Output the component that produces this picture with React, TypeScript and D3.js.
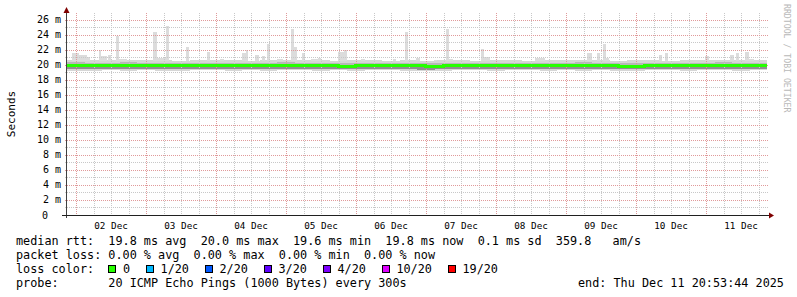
import React from 'react';
import * as d3 from 'd3';

const START = Date.UTC(2025, 11, 1, 20, 53, 44);
const END = Date.UTC(2025, 11, 11, 20, 53, 44);
const HOUR = 3600e3;

const yTicks = [0, 2, 4, 6, 8, 10, 12, 14, 16, 18, 20, 22, 24, 26];
const yMinorTicks = [1, 3, 5, 7, 9, 11, 13, 15, 17, 19, 21, 23, 25];

// median rtt (ms), one value per 3 hours
const medianRtt = [
  19.85, 19.9, 19.9, 19.85, 19.9, 19.9, 19.85, 19.9, 19.9, 19.85,
  19.9, 19.9, 19.85, 19.9, 19.85, 19.9, 19.9, 19.85, 19.9, 19.9,
  19.85, 19.9, 19.9, 19.85, 19.9, 19.9, 19.85, 19.9, 19.9, 19.85,
  19.85, 19.8, 19.75, 19.85, 19.9, 19.9, 19.85, 19.9, 19.9, 19.85,
  19.9, 19.75, 19.7, 19.85, 19.9, 19.9, 19.85, 19.9, 19.85, 19.9,
  19.9, 19.85, 19.9, 19.9, 19.85, 19.9, 19.9, 19.85, 19.9, 19.9,
  19.85, 19.9, 19.85, 19.8, 19.75, 19.75, 19.85, 19.9, 19.9, 19.85,
  19.9, 19.9, 19.85, 19.9, 19.9, 19.85, 19.9, 19.85, 19.9, 19.9,
];

// smoke band, one value per 6 hours
const smokeTop = [
  20.65, 20.6, 20.55, 20.6, 20.55, 20.55, 20.5, 20.55, 20.55, 20.55,
  20.5, 20.55, 20.6, 20.55, 20.55, 20.5, 20.55, 20.55, 20.5, 20.55,
  20.5, 20.55, 20.55, 20.5, 20.55, 20.55, 20.5, 20.55, 20.55, 20.6,
  20.55, 20.5, 20.55, 20.55, 20.5, 20.55, 20.55, 20.6, 20.55, 20.55,
];
const smokeQ3 = [
  20.3, 20.25, 20.25, 20.3, 20.25, 20.25, 20.2, 20.25, 20.25, 20.25,
  20.25, 20.25, 20.3, 20.25, 20.25, 20.2, 20.25, 20.25, 20.2, 20.25,
  20.2, 20.25, 20.25, 20.2, 20.25, 20.25, 20.25, 20.25, 20.25, 20.3,
  20.25, 20.25, 20.25, 20.25, 20.2, 20.25, 20.25, 20.3, 20.25, 20.25,
];
const smokeQ1 = [
  19.45, 19.4, 19.45, 19.4, 19.45, 19.45, 19.4, 19.45, 19.45, 19.4,
  19.45, 19.4, 19.45, 19.45, 19.4, 19.45, 19.4, 19.45, 19.45, 19.4,
  19.35, 19.4, 19.45, 19.45, 19.4, 19.45, 19.45, 19.4, 19.45, 19.4,
  19.45, 19.4, 19.4, 19.45, 19.45, 19.4, 19.45, 19.45, 19.4, 19.45,
];
const smokeBottom = [
  19.2, 19.15, 19.25, 19.2, 19.25, 19.2, 19.15, 19.25, 19.25, 19.2,
  19.25, 19.2, 19.25, 19.25, 19.2, 19.25, 19.15, 19.25, 19.25, 19.2,
  19.1, 19.2, 19.25, 19.25, 19.2, 19.25, 19.25, 19.2, 19.25, 19.2,
  19.25, 19.2, 19.15, 19.25, 19.25, 19.2, 19.25, 19.25, 19.2, 19.25,
];

// spikes of the smoke: start hour, end hour (from graph start), top value (ms)
const spikeStartH = [1.7, 4.1, 6.9, 11.0, 11.7, 14.1, 16.8, 17.8, 29.5, 30.9, 33.9, 40.8, 48.0, 52.5, 60.0, 61.4, 64.4, 66.8, 68.6, 72.0, 76.8, 77.8, 80.6, 83.7, 86.1, 92.9, 95.0, 100.8, 111.8, 115.9, 119.7, 125.9, 129.9, 131.0, 141.9, 143.0, 160.4, 178.3, 181.7, 183.8, 184.8, 202.9, 205.0, 218.7, 227.3, 229.3, 232.4, 233.8];
const spikeEndH = [4.1, 6.9, 7.9, 11.7, 13.7, 15.1, 17.8, 20.6, 30.9, 33.9, 35.0, 41.8, 49.0, 53.9, 61.4, 62.1, 65.8, 67.9, 69.6, 74.1, 77.8, 78.8, 81.6, 86.1, 87.1, 95.0, 96.0, 102.2, 112.8, 116.9, 121.1, 126.9, 131.0, 132.4, 143.0, 145.0, 163.8, 180.0, 182.7, 184.8, 185.8, 203.9, 206.0, 220.1, 228.7, 230.3, 233.8, 235.5];
const spikeTopMs = [21.5, 21.3, 21.0, 22.0, 21.2, 21.3, 23.8, 20.8, 24.4, 20.9, 25.1, 22.4, 21.7, 20.7, 21.5, 22.0, 21.3, 21.1, 22.7, 20.8, 24.7, 22.4, 21.5, 20.8, 20.9, 21.7, 22.0, 20.7, 20.8, 24.3, 20.9, 20.6, 24.8, 20.7, 22.1, 21.0, 20.9, 21.6, 21.5, 22.8, 20.9, 21.3, 21.5, 21.2, 21.3, 21.6, 21.7, 20.8];

const lossLabels = ['0', '1/20', '2/20', '3/20', '4/20', '10/20', '19/20'];
const lossColors = ['#26ff00', '#00b8ff', '#0059ff', '#5e00ff', '#7e00ff', '#dd00ff', '#ff0000'];

const rttLine = 'median rtt:  19.8 ms avg  20.0 ms max  19.6 ms min  19.8 ms now  0.1 ms sd  359.8   am/s';
const lossLine = 'packet loss: 0.00 % avg  0.00 % max  0.00 % min  0.00 % now';
const probeLine = 'probe:       20 ICMP Echo Pings (1000 Bytes) every 300s';
const endLine = 'end: Thu Dec 11 20:53:44 2025';

const W = 797;
const H = 297;
const MONO = '"DejaVu Sans Mono", monospace';

export default function App() {
  const x = d3.scaleUtc().domain([START, END]).range([67, 767]);
  const y = d3.scaleLinear().domain([0, 26.6]).range([215, 15]);
  const left = 67, right = 767, top = 15, bottom = 215;

  const minorV = d3.utcHour.every(6)!.range(new Date(START), new Date(END)).filter((d) => d.getUTCHours() !== 0);
  const majorV = d3.utcDay.range(new Date(START), new Date(END));
  const dayLabels = majorV.filter((d) => +d + 12 * HOUR < END);
  const fmt = d3.utcFormat('%d %b');

  const medStep = 3 * HOUR;
  const medPts: [number, number][] = medianRtt.map((v, i) => [START + i * medStep, v]);
  medPts.push([END, medianRtt[medianRtt.length - 1]]);
  const medLine = d3.line<[number, number]>().x((d) => x(d[0])).y((d) => y(d[1])).curve(d3.curveStepAfter);

  const smokeStep = 6 * HOUR;
  const cw = 0.602 * 11.8;
  const lx = 16;

  const lossItems: { sx: number; tx: number; label: string; color: string }[] = [];
  let col = 13;
  lossLabels.forEach((lab, i) => {
    const sx = lx + col * cw;
    const tx = lx + (col + 2.05) * cw;
    lossItems.push({ sx, tx, label: lab, color: lossColors[i] });
    col = col + 2.05 + lab.length + 2.25;
  });

  const segX = (i: number, step: number) => x(START + i * step);

  return (
    <svg width={W} height={H} style={{ position: 'absolute', left: 0, top: 0, background: '#fff' }}>
      <rect x={0} y={0} width={W} height={H} fill="#ffffff" />
      {/* smoke */}
      <g shapeRendering="crispEdges">
        {smokeTop.map((v, i) => (
          <rect key={'sb' + i} x={segX(i, smokeStep)} width={segX(i + 1, smokeStep) - segX(i, smokeStep)}
            y={y(v)} height={y(smokeBottom[i]) - y(v)} fill="#d6d6d6" />
        ))}
        {spikeTopMs.map((v, i) => (
          <rect key={'sp' + i} x={x(START + spikeStartH[i] * HOUR)} width={x(START + spikeEndH[i] * HOUR) - x(START + spikeStartH[i] * HOUR)}
            y={y(v)} height={y(20.45) - y(v)} fill="#dcdcdc" />
        ))}
        {smokeQ3.map((v, i) => (
          <rect key={'sq' + i} x={segX(i, smokeStep)} width={segX(i + 1, smokeStep) - segX(i, smokeStep)}
            y={y(v)} height={y(smokeQ1[i]) - y(v)} fill="#b8b8b8" />
        ))}
        {medianRtt.map((v, i) => (
          <rect key={'sd' + i} x={segX(i, medStep)} width={segX(i + 1, medStep) - segX(i, medStep)}
            y={y(v)} height={y(smokeQ1[Math.floor(i / 2)]) - y(v)} fill="#8f8f8f" />
        ))}
      </g>
      {/* grid */}
      <g shapeRendering="crispEdges" strokeDasharray="1,1" strokeWidth={1}>
        {yMinorTicks.map((t) => (
          <line key={'hm' + t} x1={left - 2} x2={right + 2} y1={Math.round(y(t)) + 0.5} y2={Math.round(y(t)) + 0.5} stroke="#c8c8c8" />
        ))}
        {minorV.map((d) => (
          <line key={'vm' + +d} x1={Math.round(x(d)) + 0.5} x2={Math.round(x(d)) + 0.5} y1={top - 2} y2={bottom + 2} stroke="#c8c8c8" />
        ))}
        {yTicks.filter((t) => t > 0).map((t) => (
          <line key={'hM' + t} x1={left - 2} x2={right + 2} y1={Math.round(y(t)) + 0.5} y2={Math.round(y(t)) + 0.5} stroke="#e09a9a" />
        ))}
        {majorV.map((d) => (
          <line key={'vM' + +d} x1={Math.round(x(d)) + 0.5} x2={Math.round(x(d)) + 0.5} y1={top - 2} y2={bottom + 2} stroke="#e09a9a" />
        ))}
      </g>
      {/* median */}
      <path d={medLine(medPts) || ''} fill="none" stroke="#26ff00" strokeWidth={3} shapeRendering="crispEdges" />
      {/* axes */}
      <g shapeRendering="crispEdges">
        <line x1={left - 0.5} x2={left - 0.5} y1={bottom + 3} y2={10} stroke="#404040" />
        <line x1={left - 5} x2={right + 4} y1={bottom + 0.5} y2={bottom + 0.5} stroke="#202020" />
      </g>
      <path d={`M${left - 3.5},${13} L${left - 0.5},${7} L${left + 2.5},${13} Z`} fill="#7f0000" />
      <path d={`M${right + 2},${bottom - 2.5} L${right + 7},${bottom + 0.5} L${right + 2},${bottom + 3.5} Z`} fill="#7f0000" />
      {/* y labels */}
      <g fontFamily={MONO} fontSize={10} fill="#000">
        {yTicks.map((t) => (
          <text key={'yl' + t} x={t === 0 ? 48 : 61} y={y(t) + 3.5} textAnchor="end" style={{ whiteSpace: 'pre' }}>
            {t === 0 ? '0' : `${t} m`}
          </text>
        ))}
      </g>
      <text transform="translate(15,114) rotate(-90)" textAnchor="middle" fontFamily={MONO} fontSize={11} fill="#000">Seconds</text>
      {/* x labels */}
      <g fontFamily={MONO} fontSize={9.3} fill="#000">
        {dayLabels.map((d) => (
          <text key={'xl' + +d} x={x(+d + 12 * HOUR)} y={228.5} textAnchor="middle">{fmt(d)}</text>
        ))}
      </g>
      <text transform="translate(784,4) rotate(90)" fontFamily={MONO} fontSize={8.2} fill="#b8b8b8">RRDTOOL / TOBI OETIKER</text>
      {/* legend */}
      <g fontFamily={MONO} fontSize={11.8} fill="#000" style={{ whiteSpace: 'pre' }}>
        <text x={lx} y={244.5} xmlSpace="preserve">{rttLine}</text>
        <text x={lx} y={258.5} xmlSpace="preserve">{lossLine}</text>
        <text x={lx} y={272.5} xmlSpace="preserve">loss color:</text>
        {lossItems.map((it) => (
          <g key={it.label}>
            <rect x={Math.round(it.sx) + 0.5} y={265.5} width={7} height={7} fill={it.color} stroke="#000" strokeWidth={1} shapeRendering="crispEdges" />
            <text x={it.tx} y={272.5}>{it.label}</text>
          </g>
        ))}
        <text x={lx} y={286.5} xmlSpace="preserve">{probeLine}</text>
        <text x={578} y={286.5} xmlSpace="preserve">{endLine}</text>
      </g>
    </svg>
  );
}
